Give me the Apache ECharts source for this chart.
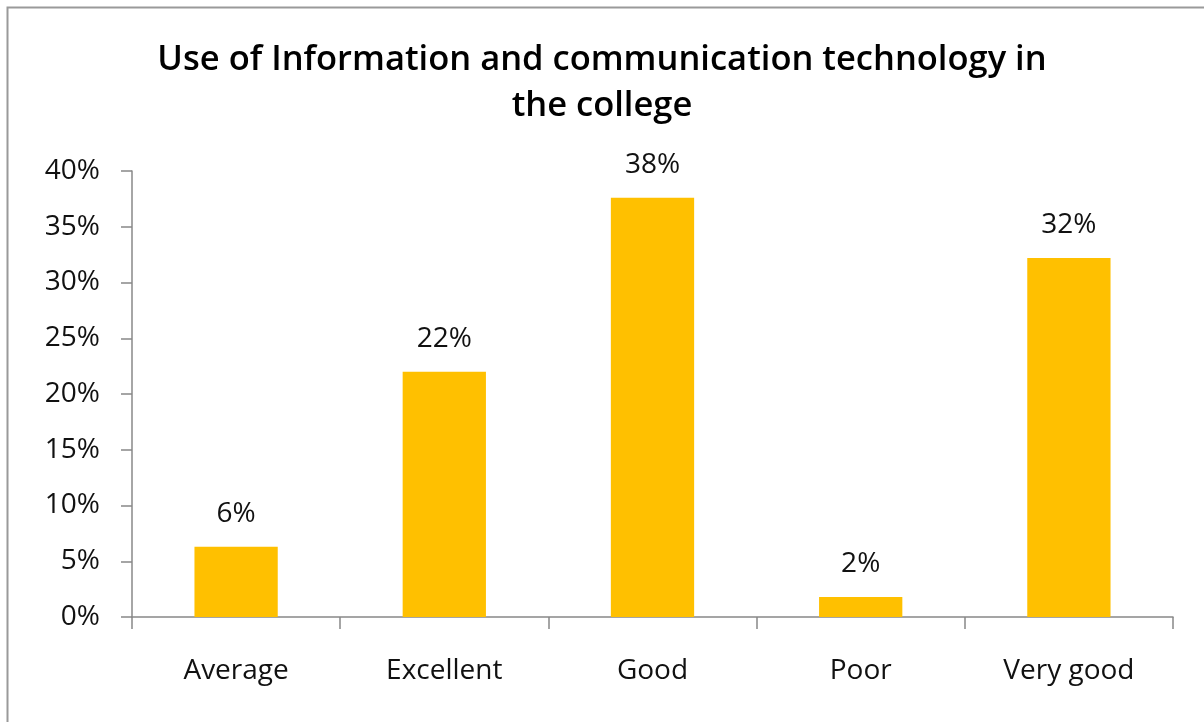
<!DOCTYPE html>
<html>
<head>
<meta charset="utf-8">
<script src="https://cdn.jsdelivr.net/npm/echarts@6/dist/echarts.min.js"></script>
<style>
html,body{margin:0;padding:0;background:#fff;}
#c{width:1204px;height:722px;}
</style>
</head>
<body>
<div id="c"></div>
<script>
var titleText = "Use of Information and communication technology in\nthe college";
var categories = ["Average", "Excellent", "Good", "Poor", "Very good"];
var values = [6.3, 22.0, 37.6, 1.8, 32.2];
var yTicks = [0, 5, 10, 15, 20, 25, 30, 35, 40];

var chart = echarts.init(document.getElementById('c'));
var font = "'Open Sans', sans-serif";
chart.setOption({
  animation: false,
  backgroundColor: '#fff',
  title: {
    text: titleText,
    left: 'center',
    top: 32,
    textStyle: {fontFamily: font, fontWeight: 600, fontSize: 34.5, color: '#000', lineHeight: 46}
  },
  graphic: [{
    type: 'rect',
    shape: {x: 7.5, y: 7.5, width: 1240, height: 760},
    style: {fill: 'none', stroke: '#9a9a9a', lineWidth: 2}
  }],
  grid: {left: 132, right: 31, top: 171, bottom: 105, containLabel: false},
  xAxis: {
    type: 'category',
    data: categories,
    axisLine: {lineStyle: {color: '#888', width: 1.5}},
    axisTick: {show: true, length: 12, lineStyle: {color: '#888', width: 1.5}},
    axisLabel: {fontFamily: font, fontSize: 28, color: '#111', margin: 40}
  },
  yAxis: {
    type: 'value',
    min: yTicks[0],
    max: yTicks[yTicks.length - 1],
    interval: 5,
    splitLine: {show: false},
    axisLine: {show: true, lineStyle: {color: '#888', width: 1.5}},
    axisTick: {show: true, length: 11, lineStyle: {color: '#888', width: 1.5}},
    axisLabel: {fontFamily: font, fontSize: 28, color: '#111', margin: 32, formatter: function(v){return v + '%';}}
  },
  series: [{
    type: 'bar',
    data: values,
    barWidth: '40%',
    itemStyle: {color: '#FFC000'},
    label: {
      show: true,
      position: 'top',
      distance: 19,
      fontFamily: font,
      fontSize: 28,
      color: '#111',
      formatter: function(p){return Math.round(p.value) + '%';}
    }
  }]
});
</script>
</body>
</html>
